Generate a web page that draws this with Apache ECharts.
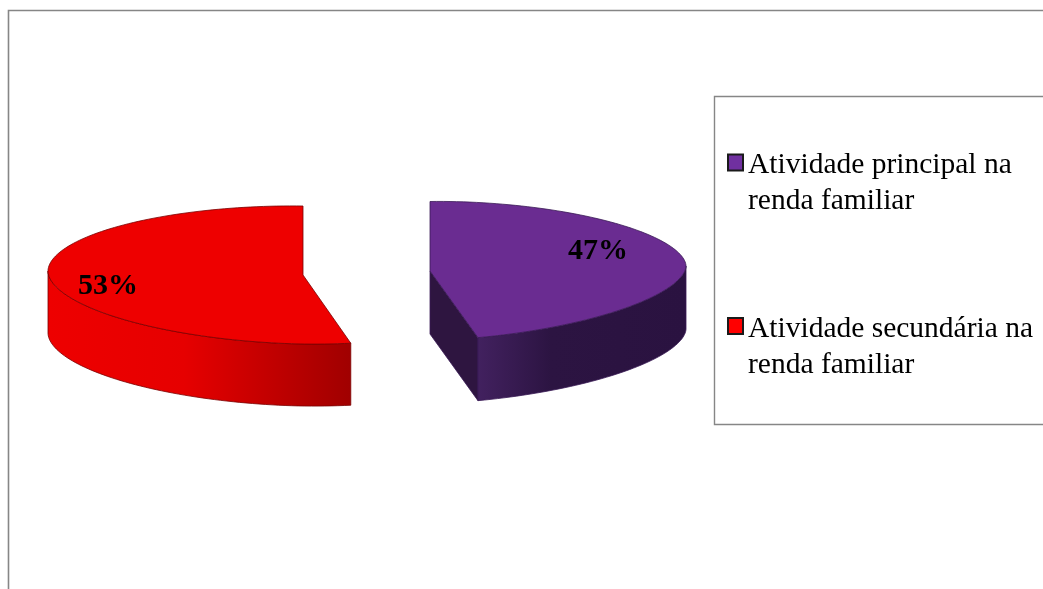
<!DOCTYPE html>
<html><head><meta charset="utf-8">
<style>html,body{margin:0;padding:0;background:#fff}#c{width:1043px;height:589px}</style>
<script src="https://cdn.jsdelivr.net/npm/echarts@6/dist/echarts.min.js"></script>
</head><body><div id="c"></div>
<script>
const categories = ['Atividade principal na renda familiar', 'Atividade secundária na renda familiar'];
const values = [47, 53];
const labels = ['47%', '53%'];
const legendColors = ['#7030a0', '#ff0000'];

const total = values.reduce((a, b) => a + b, 0);
const FONT = '"Liberation Serif","Times New Roman",serif';
const looks = [
  {cx: 430, cy: 271, rx: 256, ry: 69.5, shear: -5, roundness: 1.8, depth: 63, top: '#6a2c91', edge: '#3a1a55',
   cut: '#2e1540', wall: [[0, '#42215f'], [0.35, '#2c1442'], [1, '#2a1240']], lx: 168, ly: -20},
  {cx: 303, cy: 275, rx: 255, ry: 69, shear: 4, roundness: 1.9, depth: 62, top: '#ee0000', edge: '#7a0000',
   cut: '#a00000', wall: [[0, '#ee0000'], [0.45, '#e60000'], [1, '#a00000']], lx: -195, ly: 11}
];

function point(l, deg) {
  const a = deg * Math.PI / 180;
  const s = Math.sin(a), c = Math.cos(a);
  const n = l.roundness;
  const h = Math.pow(Math.max(0, 1 - Math.pow(Math.abs(s), n)), 1 / n) * (c >= 0 ? 1 : -1);
  return [l.cx + l.rx * s, l.cy - l.ry * h + l.shear * s];
}
function arc(l, from, to) {
  const n = Math.max(2, Math.ceil(Math.abs(to - from) / 1.5));
  const pts = [];
  for (let i = 0; i <= n; i++) pts.push(point(l, from + (to - from) * i / n));
  return pts;
}
const down = (pts, d) => pts.map(p => [p[0], p[1] + d]);

function sliceRenderer(index) {
  const l = looks[index];
  const before = values.slice(0, index).reduce((a, b) => a + b, 0);
  return function (params, api) {
    const from = before / total * 360;
    const to = from + api.value(0) / total * 360;
    const c = [l.cx, l.cy];
    const children = [];
    const lineStyle = {stroke: l.edge, lineWidth: 0.8};
    // the end edge of a slice that stops before 180 degrees shows its cut face
    if (to < 180) {
      const e = point(l, to);
      children.push({type: 'polygon', shape: {points: [c, e, [e[0], e[1] + l.depth], [c[0], c[1] + l.depth]]},
        style: {fill: l.cut, ...lineStyle}});
    }
    const wFrom = Math.max(from, 90), wTo = Math.min(to, 270);
    if (wTo > wFrom) {
      const a = arc(l, wFrom, wTo);
      const xs = a.map(p => p[0]);
      const x0 = Math.min(...xs), x1 = Math.max(...xs);
      children.push({type: 'polygon', shape: {points: a.concat(down(a, l.depth).reverse())},
        style: {fill: {type: 'linear', global: true, x: x0, y: 0, x2: x1, y2: 0,
                       colorStops: l.wall.map(s => ({offset: s[0], color: s[1]}))},
                ...lineStyle}});
    }
    children.push({type: 'polygon', shape: {points: [c].concat(arc(l, from, to))},
      style: {fill: l.top, ...lineStyle}});
    children.push({type: 'text', style: {text: labels[index], x: l.cx + l.lx, y: l.cy + l.ly,
      textAlign: 'center', textVerticalAlign: 'middle', fill: '#000',
      font: 'bold 30px ' + FONT}});
    return {type: 'group', children};
  };
}

const chart = echarts.init(document.getElementById('c'), null, {renderer: 'canvas'});
chart.setOption({
  animation: false,
  backgroundColor: '#ffffff',
  graphic: [
    {type: 'polyline', silent: true, shape: {points: [[8.5, 600], [8.5, 10.5], [1060, 10.5]]},
     style: {fill: null, stroke: '#868686', lineWidth: 1.6}},
    {type: 'rect', silent: true, shape: {x: 714.5, y: 96.5, width: 360, height: 328},
     style: {fill: 'none', stroke: '#868686', lineWidth: 1.4}}
  ],
  legend: {
    orient: 'vertical', left: 727, top: 126, padding: 0,
    itemWidth: 15, itemHeight: 16, itemGap: 73, icon: 'rect',
    data: categories.map((name, i) => ({name, itemStyle: {color: legendColors[i], borderColor: '#1a1a1a', borderWidth: 2}})),
    formatter: n => '{g| }\n{t|' + n.replace(' na ', ' na}\n{t|') + '}',
    textStyle: {
      rich: {
        g: {fontSize: 1, lineHeight: 42},
        t: {fontFamily: FONT, fontSize: 29.5, lineHeight: 36, color: '#000'}
      }
    }
  },
  series: categories.map((name, i) => ({
    type: 'custom', name, coordinateSystem: 'none', silent: true, clip: false,
    itemStyle: {color: legendColors[i]},
    data: [[values[i]]],
    renderItem: sliceRenderer(i)
  }))
});
</script></body></html>
